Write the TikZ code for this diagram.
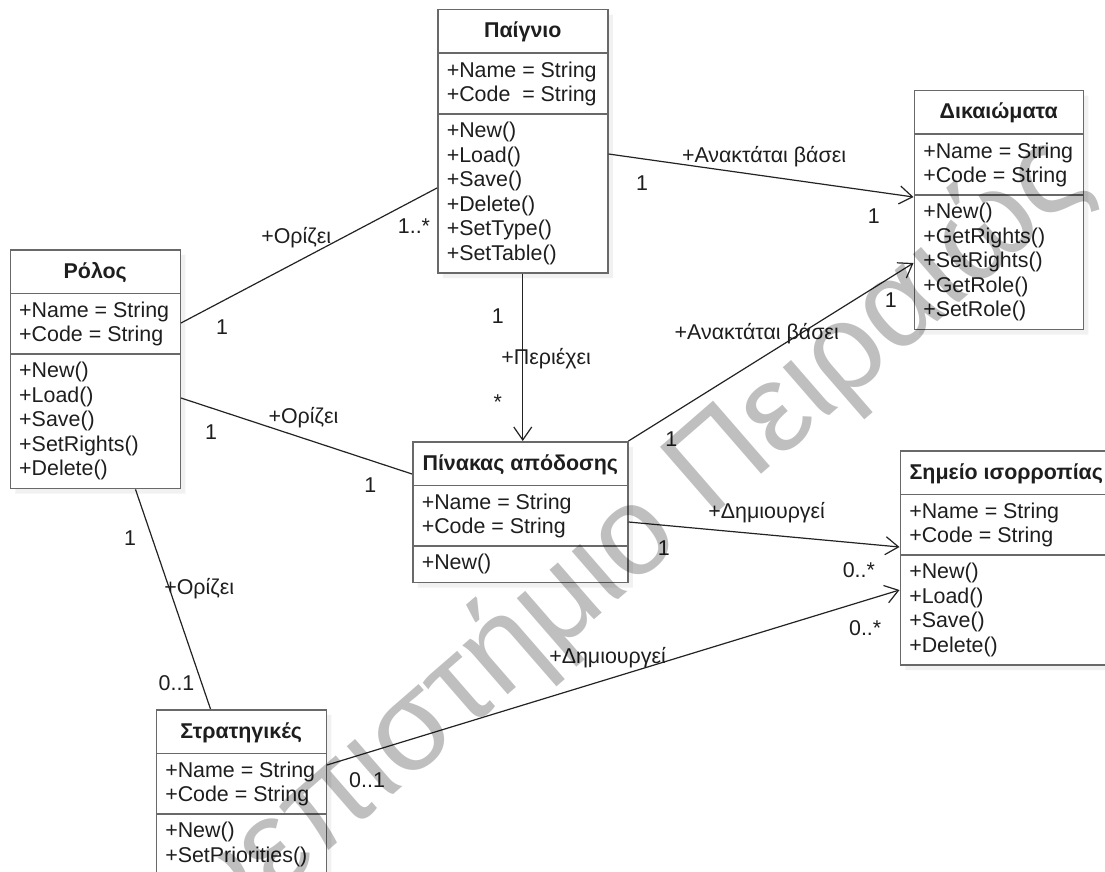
\documentclass[tikz,border=0pt]{standalone}
\usepackage{fontspec}
\setmainfont{Liberation Sans}
\usetikzlibrary{shapes.multipart, positioning, arrows.meta, shadows}

\definecolor{boxgray}{RGB}{105,105,105}
\definecolor{txtgray}{RGB}{30,30,30}
\definecolor{linegray}{RGB}{35,35,35}

\newcommand{\umlfont}{\fontsize{21.4}{24.5}\selectfont}
\newcommand{\umltitle}[1]{\textbf{\rule[-7pt]{0pt}{27pt}#1}}

\tikzstyle{umlclass} = [rectangle split, rectangle split parts=3, rectangle split part align={center,left,left}, align=left, draw=boxgray, line width=1.5pt, fill=white, minimum width=170pt, inner xsep=9pt, inner ysep=7.5pt, font=\umlfont, text=txtgray, drop shadow={shadow xshift=5pt, shadow yshift=-5pt, fill=black!10}]
\tikzstyle{assoc} = [line width=1.2pt, draw=linegray]
\tikzstyle{arrow} = [assoc, ->, >={Straight Barb[length=13pt,width=18pt]}]
\tikzstyle{lbl} = [font=\umlfont, text=txtgray, inner sep=0pt]
\tikzstyle{watermark} = [font=\fontsize{126}{126}\selectfont, text=black, opacity=0.25]

\begin{document}
\begin{tikzpicture}[x=1pt, y=1pt]

    \path [use as bounding box, fill=white] (0,0) rectangle (1105,-872);

    % Classes
    \node (game) [umlclass, anchor=north west] at (437,-9) {\umltitle{Παίγνιο}
        \nodepart{second} +Name = String\\ +Code\ \ = String
        \nodepart{third} +New()\\ +Load()\\ +Save()\\ +Delete()\\ +SetType()\\ +SetTable()};
    \node (rights) [umlclass, below right=81pt and 305pt of game.north east, minimum width=169pt] {\umltitle{Δικαιώματα}
        \nodepart{second} +Name = String\\ +Code = String
        \nodepart{third} +New()\\ +GetRights()\\ +SetRights()\\ +GetRole()\\ +SetRole()};
    \node (role) [umlclass, below left=240pt and 256pt of game.north west] {\umltitle{Ρόλος}
        \nodepart{second} +Name = String\\ +Code = String
        \nodepart{third} +New()\\ +Load()\\ +Save()\\ +SetRights()\\ +Delete()};
    \node (payoff) [umlclass, below right=192pt and 231pt of role.north east, minimum width=215pt] {\umltitle{Πίνακας απόδοσης}
        \nodepart{second} +Name = String\\ +Code = String
        \nodepart{third} +New()};
    \node (equil) [umlclass, below right=9pt and 271pt of payoff.north east, minimum width=212pt] {\umltitle{Σημείο ισορροπίας}
        \nodepart{second} +Name = String\\ +Code = String
        \nodepart{third} +New()\\ +Load()\\ +Save()\\ +Delete()};
    \node (strat) [umlclass, below right=460pt and 146pt of role.north west] {\umltitle{Στρατηγικές}
        \nodepart{second} +Name = String\\ +Code = String
        \nodepart{third} +New()\\ +SetPriorities()};

    % Associations
    \draw [assoc] ([yshift=-74pt]role.north east) -- ([yshift=-179pt]game.north west)
        node [lbl, pos=0.45, yshift=25pt] {+Ορίζει}
        node [lbl, pos=0.16, yshift=-26pt] {1}
        node [lbl, pos=0.91, yshift=-26pt] {1..*};
    \draw [arrow] ([yshift=-145pt]game.north east) -- ([yshift=-107pt]rights.north west)
        node [lbl, pos=0.51, yshift=19pt] {+Ανακτάται βάσει}
        node [lbl, pos=0.11, yshift=-24pt] {1}
        node [lbl, pos=0.87, yshift=-25pt] {1};
    \draw [arrow] (game.south) -- (game.south |- payoff.north)
        node [lbl, pos=0.25, xshift=-25pt] {1}
        node [lbl, pos=0.51, anchor=west, xshift=-22pt] {+Περιέχει}
        node [lbl, pos=0.77, xshift=-25pt] {*};
    \draw [assoc] ([yshift=-149pt]role.north east) -- ([yshift=-33pt]payoff.north west)
        node [lbl, pos=0.53, yshift=21pt] {+Ορίζει}
        node [lbl, pos=0.13, yshift=-24pt] {1}
        node [lbl, pos=0.82, yshift=-25pt] {1};
    \draw [arrow] (payoff.north east) -- ([yshift=-173pt]rights.north west)
        node [lbl, pos=0.45, yshift=27pt] {+Ανακτάται βάσει}
        node [lbl, pos=0.15, yshift=-25pt] {1}
        node [lbl, pos=0.92, yshift=-23pt] {1};
    \draw [arrow] ([yshift=-81pt]payoff.north east) -- ([yshift=-97pt]equil.north west)
        node [lbl, pos=0.51, yshift=22pt] {+Δημιουργεί}
        node [lbl, pos=0.13, yshift=-23pt] {1}
        node [lbl, pos=0.85, yshift=-27pt] {0..*};
    \draw [assoc] ([xshift=126pt]role.south west) -- ([xshift=55pt]strat.north west)
        node [lbl, pos=0.22, xshift=-22pt] {1}
        node [lbl, pos=0.45, xshift=30pt] {+Ορίζει}
        node [lbl, pos=0.88, xshift=-25pt] {0..1};
    \draw [arrow] ([yshift=-56pt]strat.north east) -- ([yshift=-140pt]equil.north west)
        node [lbl, pos=0.49, yshift=22pt] {+Δημιουργεί}
        node [lbl, pos=0.07, yshift=-27pt] {0..1}
        node [lbl, pos=0.94, yshift=-28pt] {0..*};

    % Stamp across the sheet
    \node (stamp) [watermark, rotate=41, anchor=base east] at (1095,-185) {Πανεπιστήμιο Πειραιώς};

\end{tikzpicture}
\end{document}
